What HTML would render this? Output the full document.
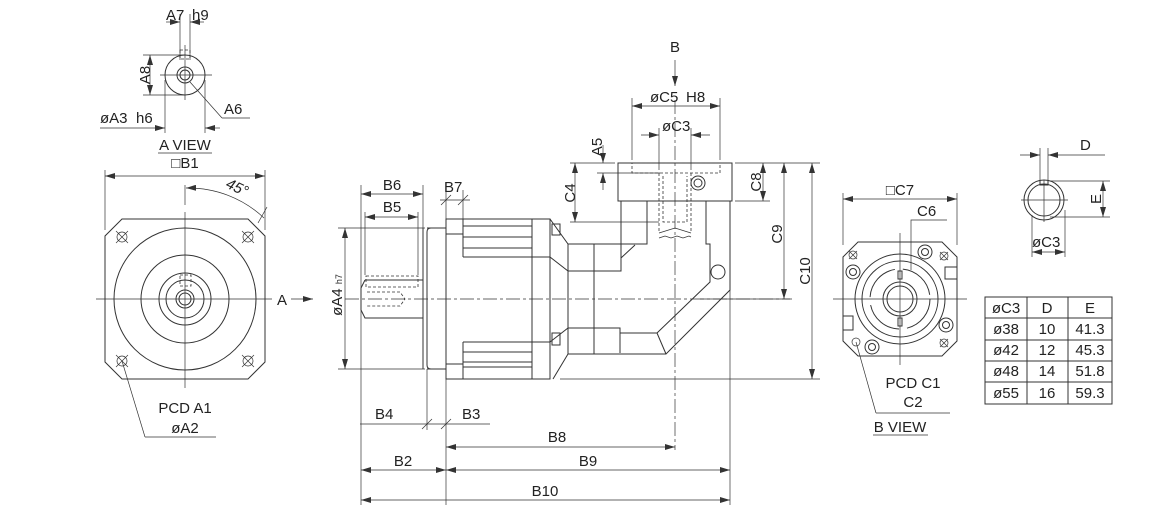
<!DOCTYPE html>
<html><head><meta charset="utf-8"><style>
html,body{margin:0;padding:0;background:#fff}
svg{display:block}
text{font-family:"Liberation Sans",Arial,sans-serif;fill:#222;font-size:15px}
.s{fill:none;stroke:#333;stroke-width:1}
.t{fill:none;stroke:#333;stroke-width:0.7}
.d{fill:none;stroke:#333;stroke-width:0.8;stroke-dasharray:3,2}
.c{fill:none;stroke:#333;stroke-width:0.7;stroke-dasharray:14,3,3,3}
</style></head><body>
<svg width="1170" height="513" viewBox="0 0 1170 513">
<defs>
<marker id="a" viewBox="0 0 10 6" refX="10" refY="3" markerWidth="10" markerHeight="6" orient="auto-start-reverse" markerUnits="userSpaceOnUse"><path d="M0,0L10,3L0,6z" fill="#333"/></marker>
</defs>

<!-- ===== A VIEW small top ===== -->
<g>
<circle class="s" cx="185" cy="75" r="20"/>
<circle class="s" cx="185" cy="75" r="8"/>
<circle class="s" cx="185" cy="75" r="5"/>
<rect class="d" x="180" y="50" width="10" height="9"/>
<line class="t" x1="160" y1="75" x2="212" y2="75"/>
<line class="t" x1="185" y1="45" x2="185" y2="100"/>
<line class="t" x1="180" y1="14" x2="180" y2="60"/><line class="t" x1="190" y1="14" x2="190" y2="60"/>
<line class="t" x1="166" y1="22" x2="180" y2="22" marker-end="url(#a)"/><line class="t" x1="204" y1="22" x2="190" y2="22" marker-end="url(#a)"/>
<text x="166" y="20">A7</text><text x="192" y="20" font-size="9">h9</text>
<line class="t" x1="143" y1="55" x2="185" y2="55"/><line class="t" x1="143" y1="95" x2="185" y2="95"/>
<line class="t" x1="150" y1="55" x2="150" y2="95" marker-start="url(#a)" marker-end="url(#a)"/>
<text x="145" y="80" transform="rotate(-90 145 75)" text-anchor="middle">A8</text>
<line class="t" x1="165" y1="80" x2="165" y2="133"/><line class="t" x1="205" y1="80" x2="205" y2="133"/>
<line class="t" x1="100" y1="128" x2="165" y2="128" marker-end="url(#a)"/><line class="t" x1="220" y1="128" x2="205" y2="128" marker-end="url(#a)"/>
<text x="100" y="123" font-size="14">øA3</text><text x="136" y="123" font-size="9">h6</text>
<line class="t" x1="190" y1="82" x2="222" y2="118"/><line class="t" x1="222" y1="118" x2="250" y2="118"/>
<text x="224" y="114">A6</text>
<text x="185" y="150" text-anchor="middle">A VIEW</text>
<line class="t" x1="158" y1="153" x2="212" y2="153"/>
</g>

<!-- ===== Left square view ===== -->
<g>
<text x="185" y="168" text-anchor="middle">□B1</text>
<line class="t" x1="105" y1="170" x2="105" y2="230"/><line class="t" x1="265" y1="170" x2="265" y2="230"/>
<line class="t" x1="105" y1="176" x2="265" y2="176" marker-start="url(#a)" marker-end="url(#a)"/>
<path class="t" d="M186,188 A110,110 0 0 1 264,218" marker-start="url(#a)"/>
<line class="t" x1="185" y1="185" x2="185" y2="205"/>
<line class="t" x1="258" y1="223" x2="267" y2="207"/>
<text x="226" y="190" transform="rotate(25 232 186)" font-style="italic">45°</text>
<path class="s" d="M122,219 L248,219 L265,236 L265,362 L248,379 L122,379 L105,362 L105,236 Z"/>
<circle class="s" cx="185" cy="299" r="71"/>
<circle class="s" cx="185" cy="299" r="44"/>
<circle class="s" cx="185" cy="299" r="26"/>
<circle class="s" cx="185" cy="299" r="19"/>
<circle class="s" cx="185" cy="299" r="9"/>
<circle class="s" cx="185" cy="299" r="6"/>
<rect class="d" x="180" y="275" width="11" height="11"/>
<g class="t">
<circle cx="122" cy="237" r="5"/><circle cx="248" cy="237" r="5"/><circle cx="122" cy="361" r="5"/><circle cx="248" cy="361" r="5"/>
<path d="M116,231l12,12M128,231l-12,12M242,231l12,12M254,231l-12,12M116,355l12,12M128,355l-12,12M242,355l12,12M254,355l-12,12"/>
</g>
<line class="t" x1="96" y1="299" x2="272" y2="299"/>
<line class="t" x1="185" y1="212" x2="185" y2="388"/>
<text x="277" y="305">A</text>
<line class="t" x1="291" y1="299" x2="313" y2="299" marker-end="url(#a)"/>
<line class="t" x1="122" y1="361" x2="145" y2="437"/><line class="t" x1="145" y1="437" x2="216" y2="437"/>
<text x="185" y="413" text-anchor="middle">PCD A1</text>
<text x="185" y="433" text-anchor="middle">øA2</text>
</g>

<!-- ===== Side view ===== -->
<g>
<line class="c" x1="345" y1="299" x2="790" y2="299"/>
<line class="c" x1="675" y1="100" x2="675" y2="450"/>
<!-- shaft -->
<line class="t" x1="338" y1="228" x2="425" y2="228"/>
<line class="t" x1="338" y1="369" x2="425" y2="369"/>
<path class="s" d="M365,280 L423,280 M361,288 L365,280 M361,310 L365,318 L423,318 M361,288 L361,310"/>
<rect class="d" x="366" y="276" width="52" height="11"/>
<path class="d" d="M367,292 L400,292 L405,299 L400,306 L367,306"/>
<path class="s" d="M423,228 L423,369 M427,228 L446,228 M427,369 L446,369"/>
<path class="s" d="M427,232 Q427,228 431,228 M427,232 L427,365 Q427,369 431,369"/>
<!-- motor flange -->
<rect class="s" x="446" y="219" width="86" height="160"/>
<path class="s" d="M446,234 L463,234 L463,219 M463,234 L463,257 M463,226 L532,226 M463,237 L532,237 M463,248 L532,248 M463,257 L532,257"/>
<path class="s" d="M446,364 L463,364 L463,379 M463,342 L463,364 M463,342 L532,342 M463,352 L532,352 M463,362 L532,362 M463,367 L532,367"/>
<rect class="s" x="532" y="219" width="18" height="160"/>
<path class="s" d="M532,257 L550,257 M532,342 L550,342"/>
<rect class="s" x="552" y="224" width="8" height="11" fill="#aaa"/>
<rect class="s" x="552" y="333" width="8" height="12" fill="#aaa"/>
<!-- gearbox body -->
<path class="s" d="M550,219 L568,244 L647,244 L647,201 M568,244 L568,354 M594,244 L594,354 M550,257 L568,271 L621,271 L621,258 L635,245 M621,258 L621,201"/>
<path class="s" d="M550,342 L568,328 L620,328 L620,353 M553,379 L568,354 L666,354 L730,290 L730,201 M620,333 L657,333 L710,282 L710,244 L706,244 L706,201"/>
<line class="s" x1="657" y1="333" x2="666" y2="354"/>
<circle class="s" cx="718" cy="272" r="7"/>
<!-- top flange -->
<rect class="s" x="618" y="163" width="114" height="38" stroke-width="1.5"/>
<rect class="d" x="632" y="163" width="88" height="10"/>
<circle class="s" cx="698" cy="183" r="7"/><circle class="s" cx="698" cy="183" r="4"/>
<path class="d" d="M659,173 L659,233 M691,173 L691,233 M663,176 L663,222 L687,222 L687,176"/>
<path class="t" d="M659,233 L675,228 L691,233 M659,238 l6,-2 l6,2 l6,-2 l6,2 l6,-2 l2,1"/>
<!-- dims top -->
<text x="675" y="52" text-anchor="middle">B</text>
<line class="t" x1="675" y1="60" x2="675" y2="86" marker-end="url(#a)"/>
<line class="t" x1="632" y1="98" x2="632" y2="160"/><line class="t" x1="720" y1="98" x2="720" y2="160"/>
<line class="t" x1="632" y1="106" x2="720" y2="106" marker-start="url(#a)" marker-end="url(#a)"/>
<text x="650" y="102">øC5</text><text x="686" y="102" font-size="9">H8</text>
<line class="t" x1="659" y1="128" x2="659" y2="170"/><line class="t" x1="691" y1="128" x2="691" y2="170"/>
<line class="t" x1="641" y1="135" x2="659" y2="135" marker-end="url(#a)"/><line class="t" x1="710" y1="135" x2="691" y2="135" marker-end="url(#a)"/>
<text x="662" y="131" font-size="14">øC3</text>
<line class="t" x1="570" y1="163" x2="615" y2="163"/><line class="t" x1="597" y1="173" x2="660" y2="173"/>
<line class="t" x1="570" y1="222" x2="659" y2="222"/>
<line class="t" x1="575" y1="163" x2="575" y2="222" marker-start="url(#a)" marker-end="url(#a)"/>
<text x="570" y="198" transform="rotate(-90 570 193)" text-anchor="middle">C4</text>
<line class="t" x1="603" y1="145" x2="603" y2="163" marker-end="url(#a)"/>
<line class="t" x1="603" y1="190" x2="603" y2="173" marker-end="url(#a)"/>
<text x="597" y="152" transform="rotate(-90 597 147)" text-anchor="middle">A5</text>
<!-- right dims -->
<line class="t" x1="735" y1="163" x2="820" y2="163"/>
<line class="t" x1="735" y1="201" x2="770" y2="201"/>
<line class="t" x1="700" y1="299" x2="792" y2="299"/>
<line class="t" x1="560" y1="379" x2="820" y2="379"/>
<line class="t" x1="763" y1="163" x2="763" y2="201" marker-start="url(#a)" marker-end="url(#a)"/>
<text x="756" y="187" transform="rotate(-90 756 182)" text-anchor="middle">C8</text>
<line class="t" x1="784" y1="163" x2="784" y2="299" marker-start="url(#a)" marker-end="url(#a)"/>
<text x="777" y="239" transform="rotate(-90 777 234)" text-anchor="middle">C9</text>
<line class="t" x1="812" y1="163" x2="812" y2="379" marker-start="url(#a)" marker-end="url(#a)"/>
<text x="805" y="276" transform="rotate(-90 805 271)" text-anchor="middle">C10</text>
<!-- left dims -->
<line class="t" x1="345" y1="228" x2="345" y2="369" marker-start="url(#a)" marker-end="url(#a)"/>
<text x="340" y="305" transform="rotate(-90 336 299)" text-anchor="middle">øA4 <tspan font-size="9">h7</tspan></text>
<line class="t" x1="361" y1="185" x2="361" y2="505"/>
<line class="t" x1="423" y1="185" x2="423" y2="228"/>
<line class="t" x1="365" y1="212" x2="365" y2="275"/><line class="t" x1="418" y1="212" x2="418" y2="275"/>
<line class="t" x1="361" y1="194" x2="423" y2="194" marker-start="url(#a)" marker-end="url(#a)"/>
<text x="392" y="190" text-anchor="middle">B6</text>
<line class="t" x1="365" y1="217" x2="418" y2="217" marker-start="url(#a)" marker-end="url(#a)"/>
<text x="392" y="212" text-anchor="middle">B5</text>
<line class="t" x1="446" y1="190" x2="446" y2="219"/><line class="t" x1="463" y1="190" x2="463" y2="219"/>
<line class="t" x1="440" y1="200" x2="470" y2="200"/>
<line class="t" x1="441" y1="205" x2="451" y2="195"/><line class="t" x1="458" y1="205" x2="468" y2="195"/>
<text x="444" y="192">B7</text>
<line class="t" x1="427" y1="369" x2="427" y2="430"/>
<line class="t" x1="446" y1="379" x2="446" y2="505"/>
<line class="t" x1="730" y1="290" x2="730" y2="505"/>
<line class="t" x1="360" y1="424" x2="490" y2="424"/>
<line class="t" x1="422" y1="429" x2="432" y2="419"/><line class="t" x1="441" y1="429" x2="451" y2="419"/>
<text x="375" y="419">B4</text><text x="462" y="419">B3</text>
<line class="t" x1="446" y1="447" x2="675" y2="447" marker-start="url(#a)" marker-end="url(#a)"/>
<text x="557" y="442" text-anchor="middle">B8</text>
<line class="t" x1="361" y1="470" x2="446" y2="470" marker-start="url(#a)" marker-end="url(#a)"/>
<text x="403" y="466" text-anchor="middle">B2</text>
<line class="t" x1="446" y1="470" x2="730" y2="470" marker-start="url(#a)" marker-end="url(#a)"/>
<text x="588" y="466" text-anchor="middle">B9</text>
<line class="t" x1="361" y1="500" x2="730" y2="500" marker-start="url(#a)" marker-end="url(#a)"/>
<text x="545" y="496" text-anchor="middle">B10</text>
</g>

<!-- ===== B VIEW ===== -->
<g>
<text x="900" y="195" text-anchor="middle">□C7</text>
<line class="t" x1="843" y1="193" x2="843" y2="245"/><line class="t" x1="957" y1="193" x2="957" y2="245"/>
<line class="t" x1="843" y1="199" x2="957" y2="199" marker-start="url(#a)" marker-end="url(#a)"/>
<text x="917" y="216">C6</text>
<path class="t" d="M947,220 L911,220 L911,270"/>
<path class="s" d="M858,242 L942,242 L957,257 L957,341 L942,356 L858,356 L843,341 L843,257 Z"/>
<circle class="s" cx="900" cy="299" r="45"/>
<circle class="s" cx="900" cy="299" r="38"/>
<circle class="s" cx="900" cy="299" r="30" stroke-dasharray="40,8"/>
<circle class="s" cx="900" cy="299" r="17" stroke-width="3"/>
<circle class="s" cx="900" cy="299" r="13"/>
<rect class="s" x="898" y="271" width="4" height="8"/><rect class="s" x="898" y="318" width="4" height="8"/>
<g class="s">
<circle cx="925" cy="252" r="7"/><circle cx="925" cy="252" r="3.5"/>
<circle cx="853" cy="272" r="7"/><circle cx="853" cy="272" r="3.5"/>
<circle cx="946" cy="325" r="7"/><circle cx="946" cy="325" r="3.5"/>
<circle cx="872" cy="347" r="7"/><circle cx="872" cy="347" r="3.5"/>
</g>
<g class="t">
<circle cx="853" cy="255" r="4"/><circle cx="944" cy="256" r="4"/><circle cx="944" cy="343" r="4"/><circle cx="856" cy="342" r="4"/>
<path d="M849,251l8,8M857,251l-8,8M940,252l8,8M948,252l-8,8M940,339l8,8M948,339l-8,8"/>
</g>
<rect class="s" x="945" y="267" width="12" height="12"/>
<rect class="s" x="843" y="316" width="10" height="14"/>
<line class="t" x1="833" y1="299" x2="967" y2="299"/>
<line class="t" x1="900" y1="233" x2="900" y2="365"/>
<line class="t" x1="856" y1="342" x2="876" y2="413"/><line class="t" x1="876" y1="413" x2="950" y2="413"/>
<text x="913" y="388" text-anchor="middle">PCD C1</text>
<text x="913" y="407" text-anchor="middle">C2</text>
<text x="900" y="432" text-anchor="middle">B VIEW</text>
<line class="t" x1="873" y1="435" x2="928" y2="435"/>
</g>

<!-- ===== Shaft section ===== -->
<g>
<circle class="s" cx="1044" cy="200" r="20"/>
<circle class="s" cx="1044" cy="200" r="16"/>
<path class="s" d="M1040,180 L1040,185 L1048,185 L1048,180"/>
<line class="t" x1="1021" y1="200" x2="1068" y2="200"/>
<line class="t" x1="1044" y1="180" x2="1044" y2="222"/>
<line class="t" x1="1040" y1="148" x2="1040" y2="183"/><line class="t" x1="1048" y1="148" x2="1048" y2="183"/>
<line class="t" x1="1020" y1="155" x2="1040" y2="155" marker-end="url(#a)"/>
<line class="t" x1="1105" y1="155" x2="1048" y2="155" marker-end="url(#a)"/>
<text x="1080" y="150">D</text>
<line class="t" x1="1050" y1="181" x2="1110" y2="181"/><line class="t" x1="1050" y1="217" x2="1110" y2="217"/>
<line class="t" x1="1103" y1="181" x2="1103" y2="217" marker-start="url(#a)" marker-end="url(#a)"/>
<text x="1096" y="204" transform="rotate(-90 1096 199)" text-anchor="middle">E</text>
<line class="t" x1="1032" y1="215" x2="1032" y2="257"/><line class="t" x1="1065" y1="210" x2="1065" y2="257"/>
<line class="t" x1="1032" y1="252" x2="1065" y2="252" marker-start="url(#a)" marker-end="url(#a)"/>
<text x="1032" y="247" font-size="14">øC3</text>
</g>

<!-- ===== Table ===== -->
<g>
<rect class="s" x="985" y="297" width="127" height="107"/>
<path class="s" d="M1027,297V404M1068,297V404M985,318H1112M985,340H1112M985,361H1112M985,382H1112"/>
<g font-size="13" text-anchor="middle">
<text x="1006" y="313">øC3</text><text x="1047" y="313">D</text><text x="1090" y="313">E</text>
<text x="1006" y="334">ø38</text><text x="1047" y="334">10</text><text x="1090" y="334">41.3</text>
<text x="1006" y="355">ø42</text><text x="1047" y="355">12</text><text x="1090" y="355">45.3</text>
<text x="1006" y="376">ø48</text><text x="1047" y="376">14</text><text x="1090" y="376">51.8</text>
<text x="1006" y="398">ø55</text><text x="1047" y="398">16</text><text x="1090" y="398">59.3</text>
</g>
</g>
</svg>
</body></html>
